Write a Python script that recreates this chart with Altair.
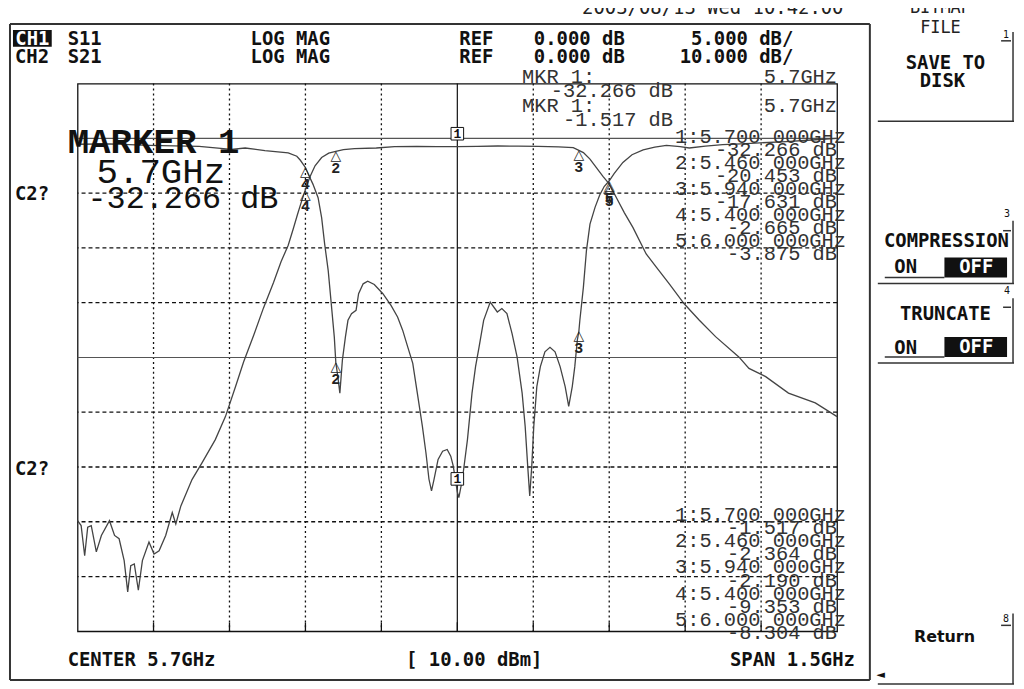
import altair as alt
import pandas as pd

# ---------------- instrument settings ----------------
CENTER_GHZ = 5.7
SPAN_GHZ = 1.5
N_DIV = 10
REF_POS = 9          # 0 dB reference line, divisions above bottom
REF_DB = 0.0
S11_PER_DIV = 5.0
S21_PER_DIV = 10.0
SOURCE_DBM = 10.0
STAMP = "2003/08/13 Wed 10:42:00"

# ---------------- traces (GHz, dB) ----------------
s11_freq = [4.950, 5.013, 5.091, 5.190, 5.254, 5.281, 5.320, 5.366, 5.383, 5.390,
            5.396, 5.400, 5.406, 5.415, 5.425, 5.432, 5.438, 5.445, 5.451, 5.457,
            5.460, 5.464, 5.468, 5.473, 5.479, 5.484, 5.491, 5.500, 5.505, 5.514,
            5.523, 5.536, 5.553, 5.569, 5.582, 5.592, 5.602, 5.612, 5.621, 5.631,
            5.638, 5.644, 5.649, 5.654, 5.662, 5.671, 5.680, 5.687, 5.692, 5.697,
            5.700, 5.703, 5.710, 5.720, 5.729, 5.736, 5.743, 5.752, 5.765, 5.779,
            5.788, 5.798, 5.808, 5.818, 5.828, 5.834, 5.839, 5.843, 5.847, 5.851,
            5.857, 5.864, 5.873, 5.883, 5.893, 5.903, 5.913, 5.920, 5.927, 5.932,
            5.937, 5.940, 5.942, 5.949, 5.955, 5.962, 5.972, 5.981, 5.990, 6.000,
            6.010, 6.027, 6.045, 6.067, 6.090, 6.113, 6.140, 6.158, 6.190, 6.224,
            6.260, 6.289, 6.350, 6.400, 6.450]
s11_db = [-0.54, -0.50, -0.64, -0.73, -1.00, -0.88, -1.12, -1.33, -1.63, -2.00,
          -2.40, -2.665, -3.29, -4.20, -5.42, -7.23, -9.65, -12.07, -15.09, -18.12,
          -20.453, -21.75, -23.26, -20.24, -18.12, -16.61, -16.00, -15.70, -14.18, -13.28,
          -13.04, -13.34, -14.18, -15.25, -16.31, -17.51, -19.03, -20.54, -23.26, -26.29,
          -28.70, -31.12, -32.19, -31.12, -29.31, -28.56, -28.40, -29.01, -29.92, -31.40,
          -32.266, -32.79, -31.12, -27.50, -23.26, -20.84, -19.03, -16.61, -14.95, -15.85,
          -15.54, -16.00, -17.81, -19.94, -23.26, -26.29, -29.92, -32.64, -29.92, -26.29,
          -22.66, -20.84, -19.48, -19.08, -19.48, -20.84, -22.66, -24.47, -22.66, -20.84,
          -18.42, -17.631, -16.61, -13.58, -10.25, -7.83, -6.30, -5.20, -4.40, -3.875,
          -3.20, -2.20, -1.50, -1.05, -0.80, -0.65, -0.75, -0.88, -0.70, -0.57,
          -0.50, -0.43, -0.30, -0.15, 0.00]

s21_freq = [4.950, 4.957, 4.964, 4.970, 4.977, 4.987, 4.997, 5.013, 5.023, 5.032,
            5.042, 5.049, 5.055, 5.062, 5.070, 5.078, 5.091, 5.101, 5.111, 5.124,
            5.137, 5.144, 5.154, 5.176, 5.196, 5.222, 5.242, 5.262, 5.278, 5.298,
            5.317, 5.337, 5.352, 5.366, 5.376, 5.384, 5.392, 5.400, 5.409, 5.419,
            5.432, 5.446, 5.460, 5.475, 5.497, 5.540, 5.576, 5.620, 5.660, 5.700,
            5.740, 5.780, 5.820, 5.860, 5.900, 5.929, 5.940, 5.949, 5.962, 5.975,
            5.988, 6.000, 6.014, 6.030, 6.047, 6.073, 6.093, 6.119, 6.148, 6.178,
            6.210, 6.256, 6.276, 6.309, 6.354, 6.407, 6.450]
s21_db = [-69.8, -70.7, -76.2, -71.0, -70.7, -75.5, -72.5, -69.8, -72.5, -73.1,
          -77.1, -82.8, -78.0, -77.7, -82.5, -77.1, -73.7, -75.9, -75.3, -72.5,
          -68.3, -70.4, -67.1, -62.3, -59.2, -55.0, -50.8, -45.3, -40.8, -35.9,
          -31.0, -26.3, -22.5, -19.5, -16.5, -14.0, -11.6, -9.353, -7.0, -5.0,
          -3.5, -2.7, -2.364, -2.05, -1.87, -1.76, -1.50, -1.45, -1.50, -1.517,
          -1.45, -1.40, -1.42, -1.47, -1.55, -1.70, -2.190, -2.6, -3.8, -5.4,
          -7.0, -8.304, -10.8, -13.6, -16.3, -21.1, -23.5, -26.6, -30.2, -33.2,
          -36.2, -39.9, -42.0, -43.5, -46.5, -48.3, -50.8]

# ---------------- markers ----------------
mkr_freq = [5.70, 5.46, 5.94, 5.40, 6.00]
s11_mkr_db = [-32.266, -20.453, -17.631, -2.665, -3.875]
s21_mkr_db = [-1.517, -2.364, -2.190, -9.353, -8.304]

# ---------------- geometry ----------------
W, H = 764, 551
PAD = {"left": 70, "top": 74, "right": 180, "bottom": 56}
OX, OY = 8 + PAD["left"], 8 + PAD["top"]   # plot origin on the page

F0, F1 = CENTER_GHZ - SPAN_GHZ / 2, CENTER_GHZ + SPAN_GHZ / 2
xs = alt.Scale(domain=[F0, F1], nice=False, zero=False)
ys = alt.Scale(domain=[0, N_DIV], nice=False, zero=False)


def to_div(db, per_div):
    return REF_POS + (db - REF_DB) / per_div


tr = pd.DataFrame({
    "f": s11_freq + s21_freq,
    "d": [to_div(v, S11_PER_DIV) for v in s11_db] + [to_div(v, S21_PER_DIV) for v in s21_db],
    "trace": ["S11"] * len(s11_freq) + ["S21"] * len(s21_freq),
})
mk = pd.DataFrame({
    "f": mkr_freq * 2,
    "d": [to_div(v, S11_PER_DIV) for v in s11_mkr_db] + [to_div(v, S21_PER_DIV) for v in s21_mkr_db],
    "n": [str(i + 1) for i in range(len(mkr_freq))] * 2,
})

step = SPAN_GHZ / N_DIV
vgrid = pd.DataFrame({"f": [F0 + step * k for k in range(1, N_DIV)],
                      "solid": [k == N_DIV // 2 for k in range(1, N_DIV)]})
hgrid = pd.DataFrame({"d": list(range(1, N_DIV)),
                      "solid": [k in (REF_POS, N_DIV // 2) for k in range(1, N_DIV)]})
ticks = pd.DataFrame({"f": [F0 + step * k for k in range(1, N_DIV)]})

X = lambda fld: alt.X(fld, scale=xs, axis=None)
Y = lambda fld: alt.Y(fld, scale=ys, axis=None)

layers = []
layers.append(alt.Chart(vgrid[~vgrid.solid]).mark_rule(stroke="#111", strokeWidth=1.3, strokeDash=[2, 3]).encode(x=X("f:Q")))
layers.append(alt.Chart(vgrid[vgrid.solid]).mark_rule(stroke="#111", strokeWidth=1.2).encode(x=X("f:Q")))
layers.append(alt.Chart(hgrid[~hgrid.solid]).mark_rule(stroke="#111", strokeWidth=1.3, strokeDash=[4, 3]).encode(y=Y("d:Q")))
layers.append(alt.Chart(hgrid[hgrid.solid]).mark_rule(stroke="#555", strokeWidth=1.1).encode(y=Y("d:Q")))
layers.append(alt.Chart(ticks).mark_rule(stroke="#111", strokeWidth=1.3).encode(
    x=X("f:Q"), y=alt.value(H - 9), y2=alt.value(H)))

layers.append(alt.Chart(tr).mark_line(stroke="#444", strokeWidth=1.3).encode(
    x=X("f:Q"), y=Y("d:Q"), detail="trace:N"))

others = mk[mk.n != "1"]
act = mk[mk.n == "1"]
layers.append(alt.Chart(others).mark_text(text="△", font="DejaVu Sans", fontSize=14, dy=5, color="#222").encode(
    x=X("f:Q"), y=Y("d:Q")))
layers.append(alt.Chart(others).mark_text(font="Liberation Mono", fontWeight="bold", fontSize=15, dy=17, color="#222").encode(
    x=X("f:Q"), y=Y("d:Q"), text="n:N"))
layers.append(alt.Chart(act).mark_point(shape="square", size=160, fill="white", fillOpacity=1, stroke="#111",
                                        strokeWidth=1, opacity=1, yOffset=-13).encode(x=X("f:Q"), y=Y("d:Q")))
layers.append(alt.Chart(act).mark_text(font="Liberation Mono", fontWeight="bold", fontSize=13, dy=-13, color="#111").encode(
    x=X("f:Q"), y=Y("d:Q"), text="n:N"))


# ---------------- screen chrome helpers (page pixel positions) ----------------
def txt(rows, align="left", font="DejaVu Sans Mono", size=19, weight="bold", color="#111"):
    df = pd.DataFrame(rows, columns=["t", "ax", "ay"])
    df["px"] = df["ax"] - OX
    df["py"] = df["ay"] - OY
    return alt.Chart(df).mark_text(align=align, baseline="middle", font=font, fontSize=size,
                                   fontWeight=weight, color=color).encode(
        x=alt.X("px:Q", scale=None, axis=None), y=alt.Y("py:Q", scale=None, axis=None), text="t:N")


def lines(rows, color="#333", width=1.5):
    df = pd.DataFrame(rows, columns=["a", "b", "c", "e"])
    df = pd.DataFrame({"x1": df.a - OX, "y1": df.b - OY, "x2": df.c - OX, "y2": df.e - OY})
    return alt.Chart(df).mark_rule(stroke=color, strokeWidth=width).encode(
        x=alt.X("x1:Q", scale=None, axis=None), y=alt.Y("y1:Q", scale=None, axis=None), x2="x2:Q", y2="y2:Q")


def boxes(rows, color="#111"):
    df = pd.DataFrame(rows, columns=["a", "b", "c", "e"])
    df = pd.DataFrame({"x1": df.a - OX, "y1": df.b - OY, "x2": df.c - OX, "y2": df.e - OY})
    return alt.Chart(df).mark_rect(fill=color).encode(
        x=alt.X("x1:Q", scale=None, axis=None), y=alt.Y("y1:Q", scale=None, axis=None), x2="x2:Q", y2="y2:Q")


# frame and soft-key outlines
layers.append(lines([(10, 22, 875, 22), (10, 22, 10, 682), (875, 22, 875, 682), (10, 682, 875, 682)], "#333", 2))
layers.append(lines([
    (1019, 30, 1019, 120), (883, 120, 1020, 120),
    (1019, 220, 1019, 283), (883, 283, 1020, 283), (890, 277, 950, 277),
    (1019, 298, 1019, 363), (883, 363, 1020, 363), (890, 357, 950, 357),
    (1019, 615, 1019, 686), (883, 686, 1020, 686),
    (1007, 39, 1017, 39), (1009, 230, 1017, 230), (1009, 307, 1017, 307), (1007, 627, 1017, 627),
], "#333", 1.5))
layers.append(boxes([(13, 28, 52, 45), (950, 257, 1013, 277), (950, 337, 1013, 357)]))

ref_txt = f"{REF_DB:.3f} dB"
layers.append(txt([
    ("S11", 68, 37), ("LOG MAG", 252, 37), ("REF", 462, 37), (ref_txt, 537, 37),
    ("CH2", 15, 55), ("S21", 68, 55), ("LOG MAG", 252, 55), ("REF", 462, 55), (ref_txt, 537, 55),
    ("C2?", 15, 193), ("C2?", 15, 470),
    (f"CENTER {CENTER_GHZ:g}GHz", 68, 662),
]))
layers.append(txt([
    (f"{S11_PER_DIV:.3f} dB/", 798, 37), (f"{S21_PER_DIV:.3f} dB/", 798, 55),
    (f"SPAN {SPAN_GHZ:g}GHz", 860, 662),
], align="right"))
layers.append(txt([
    (f"[ {SOURCE_DBM:.2f} dBm]", 477, 662),
    ("SAVE TO", 951, 61), ("DISK", 948, 79),
    ("COMPRESSION", 952, 240), ("ON", 911, 267),
    ("TRUNCATE", 951, 314), ("ON", 911, 348),
], align="center"))
layers.append(txt([("CH1", 32.5, 37), ("OFF", 982, 267), ("OFF", 982, 347)], align="center", color="white"))
layers.append(txt([(STAMP, 717, 6)], align="center", weight="normal", color="#222"))
layers.append(txt([("BITMAP", 946, 6), ("FILE", 946, 26)], align="center", size=17, weight="normal", color="#222"))
layers.append(txt([("1", 1012, 33), ("3", 1013, 213), ("4", 1013, 291), ("8", 1012, 621)],
                  align="center", size=10, weight="normal"))
layers.append(txt([("Return", 950, 639)], align="center", font="DejaVu Sans", size=16))
layers.append(txt([("◄", 886, 677)], align="center", font="DejaVu Sans", size=11, weight="normal"))

# marker readouts
MF = "Liberation Mono"
ghz = lambda i, f: f"{i + 1}:{f:.3f} 000GHz"
dbs = lambda v: f"{v:.3f} dB"
top_g = [(ghz(i, f), 851, 136 + 26 * i) for i, f in enumerate(mkr_freq)]
top_d = [(dbs(v), 842, 149 + 26 * i) for i, v in enumerate(s11_mkr_db)]
bot_g = [(ghz(i, f), 851, 516 + 26.4 * i) for i, f in enumerate(mkr_freq)]
bot_d = [(dbs(v), 842, 529.2 + 26.4 * i) for i, v in enumerate(s21_mkr_db)]
mk_head = [(f"{mkr_freq[0]:g}GHz", 842, 75), (f"{mkr_freq[0]:g}GHz", 842, 105),
           (dbs(s11_mkr_db[0]), 677, 90), (dbs(s21_mkr_db[0]), 677, 119)]
layers.append(txt(top_g + top_d + bot_g + bot_d + mk_head, align="right", font=MF, size=20.5,
                  weight="normal", color="#333"))
layers.append(txt([("MKR  1:", 525, 75), ("MKR  1:", 525, 105)], font=MF, size=20.5, weight="normal", color="#333"))

# big active-marker annotation
layers.append(txt([("MARKER 1", 68, 141)], font=MF, size=36, weight="bold", color="#111"))
layers.append(txt([(f"{mkr_freq[0]:g}GHz", 97, 171)], font=MF, size=36, weight="normal", color="#111"))
layers.append(txt([(dbs(s11_mkr_db[0]), 88, 197)], font=MF, size=32, weight="normal", color="#111"))

chart = alt.layer(*layers).properties(
    width=W, height=H, padding=PAD,
    autosize=alt.AutoSizeParams(type="none"),
    background="white",
).configure_view(stroke="#111", strokeWidth=1.3)

chart.save("out.html", embed_options={"renderer": "svg", "actions": False})
